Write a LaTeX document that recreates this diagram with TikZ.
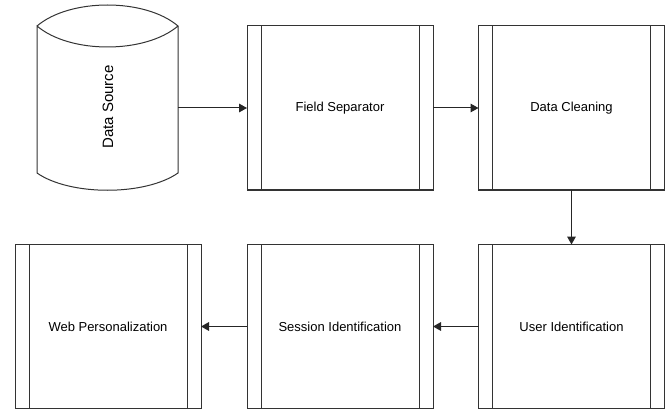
\documentclass[tikz,border=0pt]{standalone}
\usepackage{fontspec}
\setmainfont{Liberation Sans}
\usetikzlibrary{arrows.meta}
\tikzset{
  procbox/.style={draw=black!80, line width=0.75pt, minimum width=139.5pt, minimum height=123pt,
    outer sep=0pt, font=\fontsize{9.75}{12}\selectfont},
  flow/.style={draw=black!85, line width=0.75pt, -{Triangle[length=6pt,width=6.5pt]}}
}
\begin{document}
\begin{tikzpicture}[x=0.75pt,y=-0.75pt]
  \useasboundingbox (0,0) rectangle (672,410);
  % data source (drawn as a drum)
  \draw[black!80, line width=0.75pt]
    (37,26) .. controls (70,-2) and (145,-2) .. (178,26)
    .. controls (145,54) and (70,54) .. (37,26) -- (37,173)
    .. controls (70,196) and (145,196) .. (178,173) -- (178,26);
  \node[rotate=90, font=\fontsize{11.25}{13}\selectfont] (src) at (108,107) {Data Source};
  \coordinate (srcout) at (178,108);
  % process boxes
  \node[procbox] (fs) at (340,108) {Field Separator};
  \node[procbox] (dc) at (571.5,108) {Data Cleaning};
  \node[procbox] (ui) at (571.5,326.5) {User Identification};
  \node[procbox] (si) at (340,326.5) {Session Identification};
  \node[procbox] (wp) at (108,326.5) {Web Personalization};
  \foreach \n in {fs,dc,ui,si,wp}{
    \draw[black!80, line width=0.75pt] ([xshift=10.5pt]\n.north west) -- ([xshift=10.5pt]\n.south west);
    \draw[black!80, line width=0.75pt] ([xshift=-10.5pt]\n.north east) -- ([xshift=-10.5pt]\n.south east);
  }
  % connectors
  \draw[flow] (srcout) -- (fs.west);
  \draw[flow] (fs.east) -- (dc.west);
  \draw[flow] (dc.south) -- (ui.north);
  \draw[flow] (ui.west) -- (si.east);
  \draw[flow] (si.west) -- (wp.east);
\end{tikzpicture}
\end{document}
